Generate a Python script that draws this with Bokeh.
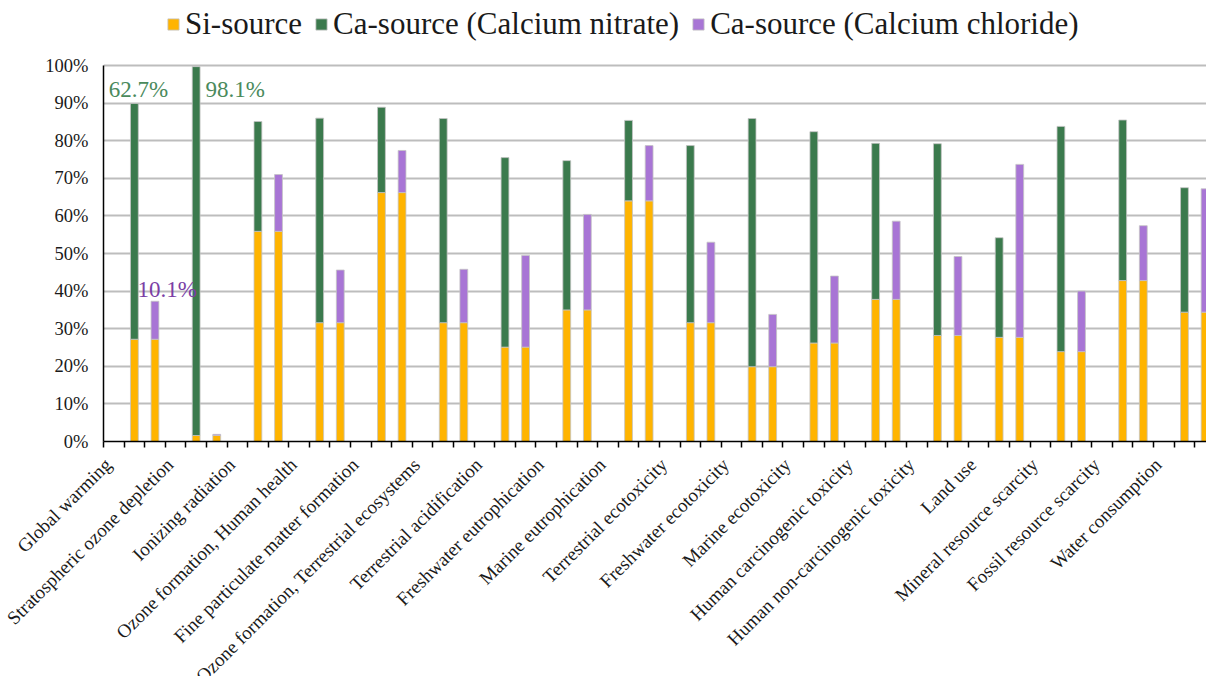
import math
from bokeh.plotting import figure
from bokeh.layouts import column
from bokeh.models import (ColumnDataSource, Range1d, FixedTicker, Legend, LegendItem,
                          CustomJSTickFormatter)
from bokeh.embed import file_html
from bokeh.resources import INLINE
from bokeh.core.properties import value

categories = [
    "Global warming", "Stratospheric ozone depletion", "Ionizing radiation",
    "Ozone formation, Human health", "Fine particulate matter formation",
    "Ozone formation, Terrestrial ecosystems", "Terrestrial acidification",
    "Freshwater eutrophication", "Marine eutrophication", "Terrestrial ecotoxicity",
    "Freshwater ecotoxicity", "Marine ecotoxicity", "Human carcinogenic toxicity",
    "Human non-carcinogenic toxicity", "Land use", "Mineral resource scarcity",
    "Fossil resource scarcity", "Water consumption",
]
si_source = [27.2, 1.6, 55.9, 31.6, 66.2, 31.6, 25.1, 35.0, 64.0,
             31.6, 19.9, 26.2, 37.8, 28.2, 27.7, 23.9, 42.8, 34.4]
ca_nitrate = [62.7, 98.1, 29.2, 54.4, 22.7, 54.3, 50.4, 39.7, 21.4,
              47.1, 66.0, 56.2, 41.5, 51.0, 26.5, 59.9, 42.7, 33.1]
ca_chloride = [10.1, 0.3, 15.1, 14.0, 11.2, 14.2, 24.4, 25.4, 14.7,
               21.4, 13.9, 17.8, 20.8, 21.0, 46.0, 16.1, 14.6, 32.8]
series_names = ["Si-source", "Ca-source (Calcium nitrate)", "Ca-source (Calcium chloride)"]
series_colors = ["#FFB400", "#3B7A4D", "#A875D5"]
y_ticks = [0, 10, 20, 30, 40, 50, 60, 70, 80, 90, 100]
y_tick_labels = ["0%", "10%", "20%", "30%", "40%", "50%", "60%", "70%", "80%", "90%", "100%"]
ann_text = ["62.7%", "98.1%", "10.1%"]
ann_cat = [0, 1, 0]
ann_y = [93.5, 93.5, 40.4]
ann_colors = ["#4A8A5C", "#4A8A5C", "#7B3FA6"]

FONT = "Liberation Serif"
W, H = 1206, 676
LEFT = 103          # frame left edge (px)
TOP_PAD = 65        # px between canvas top and the 100% line
PLOT_H = 441        # px from canvas top to the 0% line
AX_H = 12           # px reserved for the slot tick marks
X_END = 53.57
PX_PER_PCT = (PLOT_H - TOP_PAD) / 100.0
px_per_slot = (W - LEFT) / X_END
LABEL_Y = 461       # px from canvas top where the category names end

n = len(categories)
x_n = [3 * i + 1.5 for i in range(n)]
x_c = [3 * i + 2.5 for i in range(n)]
x_lab = [3 * i + 0.22 for i in range(n)]

src_n = ColumnDataSource(dict(x=x_n, si=si_source, ca=ca_nitrate))
src_c = ColumnDataSource(dict(x=x_c, si=si_source, ca=ca_chloride))

# ---------------- main chart ----------------
p = figure(width=W, height=PLOT_H + AX_H, output_backend="svg", toolbar_location=None,
           x_range=Range1d(0, X_END), y_range=Range1d(0, 100 + TOP_PAD / PX_PER_PCT),
           min_border_left=LEFT, min_border_right=0, min_border_top=0,
           min_border_bottom=AX_H)
p.outline_line_color = None
p.background_fill_color = "white"

bw = 0.38
rn = p.vbar_stack(["si", "ca"], x="x", width=bw, source=src_n,
                  color=[series_colors[0], series_colors[1]],
                  line_color="#c4c4c4", line_width=0.8)
rc = p.vbar_stack(["si", "ca"], x="x", width=bw, source=src_c,
                  color=[series_colors[0], series_colors[2]],
                  line_color="#c4c4c4", line_width=0.8)

offs = [-1.25, 0.45, 0.15]
ann_x = [x_n[c] + o for c, o in zip(ann_cat, offs)]
ann_src = ColumnDataSource(dict(x=ann_x, y=ann_y, t=ann_text, c=ann_colors))
p.text(x="x", y="y", text="t", text_color="c", source=ann_src,
       text_font=value(FONT), text_font_size="23px",
       text_baseline="middle", text_align="left")

p.yaxis.bounds = (0, 100)
p.yaxis.ticker = FixedTicker(ticks=y_ticks)
p.yaxis.major_label_overrides = {t: l for t, l in zip(y_ticks, y_tick_labels)}
p.yaxis.major_label_text_font = FONT
p.yaxis.major_label_text_font_size = "18.5px"
p.yaxis.major_label_text_color = "#1a1a1a"
p.yaxis.major_tick_line_color = None
p.yaxis.minor_tick_line_color = None
p.yaxis.axis_line_color = "black"
p.yaxis.axis_line_width = 1.5
p.yaxis.major_label_standoff = 9

p.ygrid.ticker = FixedTicker(ticks=y_ticks)
p.ygrid.grid_line_color = "#bdbdbd"
p.ygrid.grid_line_width = 2
p.xgrid.grid_line_color = None

p.xaxis.ticker = FixedTicker(ticks=list(range(0, 55)))
p.xaxis.formatter = CustomJSTickFormatter(code="return ''")
p.xaxis.major_label_text_font_size = "1px"
p.xaxis.major_label_standoff = 0
p.xaxis.major_tick_line_color = "black"
p.xaxis.major_tick_line_width = 1.5
p.xaxis.major_tick_out = 6
p.xaxis.major_tick_in = 0
p.xaxis.minor_tick_line_color = None
p.xaxis.axis_line_color = "black"
p.xaxis.axis_line_width = 1.5

legend = Legend(items=[
    LegendItem(label=series_names[0], renderers=[rn[0]]),
    LegendItem(label=series_names[1], renderers=[rn[1]]),
    LegendItem(label=series_names[2], renderers=[rc[1]]),
], orientation="horizontal", location=(63, PLOT_H - 42),
    label_text_font=FONT, label_text_font_size="31px", label_text_color="#1a1a1a",
    glyph_width=14, glyph_height=14, label_standoff=5, spacing=12,
    padding=0, margin=0, border_line_color=None, background_fill_alpha=0)
p.add_layout(legend, "center")

# ---------------- category labels strip (same x scale) ----------------
strip_h = H - (PLOT_H + AX_H)
q = figure(width=W, height=strip_h, output_backend="svg", toolbar_location=None,
           x_range=Range1d(-LEFT / px_per_slot, X_END), y_range=Range1d(-strip_h, 0),
           min_border_left=0, min_border_right=0, min_border_top=0, min_border_bottom=0)
q.xaxis.visible = False
q.yaxis.visible = False
q.xgrid.grid_line_color = None
q.ygrid.grid_line_color = None
q.outline_line_color = None
for fig in (p, q):
    try:
        fig.frame_align = False
    except Exception:
        pass
lab_src = ColumnDataSource(dict(x=x_lab, t=categories))
q.text(x="x", y=-(LABEL_Y - PLOT_H - AX_H), text="t", source=lab_src, angle=math.pi / 4,
       text_align="right", text_baseline="middle", text_font=value(FONT),
       text_font_size="19px", text_color="#1a1a1a")

layout = column(p, q, spacing=0)
open("out.html", "w").write(file_html(layout, INLINE))
